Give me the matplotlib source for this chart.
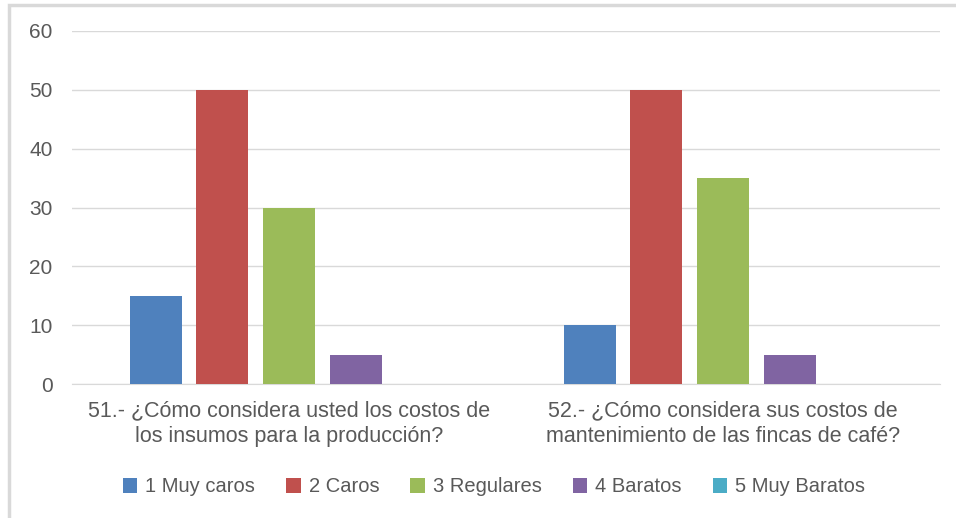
import numpy as np
import matplotlib.pyplot as plt
from matplotlib.patches import Rectangle

plt.rcParams['font.family'] = ['Liberation Sans Narrow', 'Liberation Sans', 'DejaVu Sans']

# datos
categorias = ["51.- ¿Cómo considera usted los costos de\nlos insumos para la producción?",
              "52.- ¿Cómo considera sus costos de\nmantenimiento de las fincas de café?"]
series = ["1 Muy caros", "2 Caros", "3 Regulares", "4 Baratos", "5 Muy Baratos"]
muy_caros = [15, 10]
caros = [50, 50]
regulares = [30, 35]
baratos = [5, 5]
muy_baratos = [0, 0]
colores = ['#4F81BD', '#C0504D', '#9BBB59', '#8064A2', '#4BACC6']
gris = '#595959'

valores = [muy_caros, caros, regulares, baratos, muy_baratos]

fig = plt.figure(figsize=(9.56, 5.18), dpi=100)
ax = fig.add_axes([72/956, 1-384/518, 868/956, 353/518])

x = np.arange(len(categorias))
paso = 0.1536
ancho = 0.12
for i, (nombre, vals) in enumerate(zip(series, valores)):
    ax.bar(x + (i-2)*paso, vals, ancho, color=colores[i], label=nombre, zorder=3)

ax.set_xlim(-0.5, 1.5)
ax.set_ylim(0, 60)
ax.set_yticks(range(0, 61, 10))
ax.yaxis.grid(True, color='#d9d9d9', linewidth=1, zorder=0)
ax.set_xticks(x)
ax.set_xticklabels(categorias, fontsize=15.5, color=gris, linespacing=1.3)
ax.tick_params(axis='both', length=0, labelcolor=gris)
ax.tick_params(axis='y', labelsize=15, pad=14)
ax.tick_params(axis='x', pad=12)
for s in ['top', 'right', 'left']:
    ax.spines[s].set_visible(False)
ax.spines['bottom'].set_color('#d9d9d9')

leg = fig.legend(loc='center', bbox_to_anchor=(494/956, 1-487/518), ncol=5, frameon=False,
                 fontsize=14.5, handlelength=0.7, handleheight=0.7, handletextpad=0.4,
                 columnspacing=1.55, labelcolor=gris)

# borde del grafico
fig.patches.append(Rectangle((9/956, -0.1), 1.2, 1.1 - 5/518, transform=fig.transFigure,
                             fill=False, edgecolor='#d9d9d9', linewidth=2.5))

fig.savefig('out.png', dpi=100)
